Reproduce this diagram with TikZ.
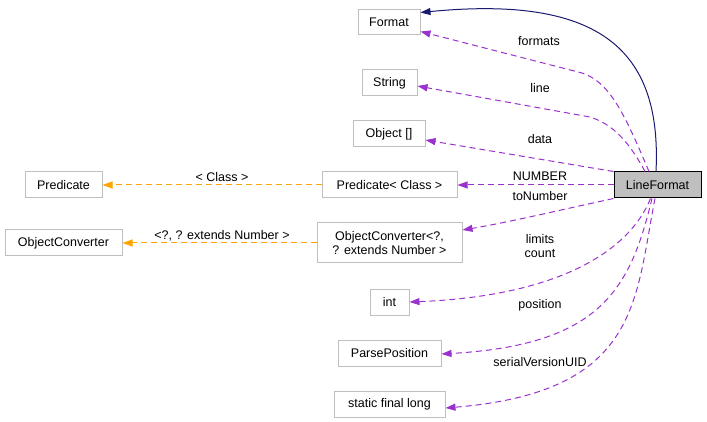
\documentclass[tikz,border=0pt]{standalone}
\usepackage{fontspec}
\setmainfont{Liberation Sans}
\usetikzlibrary{arrows.meta}
\definecolor{boxgray}{HTML}{BFBFBF}
\definecolor{assoc}{HTML}{9A32CD}
\definecolor{tmpl}{HTML}{FFA500}
\definecolor{inherit}{HTML}{191970}
\begin{document}
\begin{tikzpicture}[x=1pt,y=-1pt,
  every node/.style={font=\fontsize{12.5}{14}\selectfont},
  cls/.style={draw=boxgray,line width=1pt,rectangle,inner sep=0pt,minimum height=26pt,align=center},
  focus/.style={draw=black,fill=boxgray,line width=1pt,rectangle,inner sep=0pt,minimum height=26pt,minimum width=87pt},
  tip/.style={-{Triangle[length=10pt,width=7pt]}},
  useedge/.style={tip,color=assoc,line width=1pt,dash pattern=on 6pt off 4pt},
  tmpledge/.style={tip,color=tmpl,line width=1pt,dash pattern=on 6pt off 4pt},
  inhedge/.style={tip,color=inherit,line width=1pt},
  lbl/.style={inner sep=0pt,text=black}]
\useasboundingbox (0,0) rectangle (707,422);
% nodes
\node[cls,minimum width=62pt,minimum height=25pt] (fmt) at (389,22.5) {Format};
\node[cls,minimum width=55pt] (str) at (389.5,83) {String};
\node[cls,minimum width=72pt] (obj) at (389,134) {Object []};
\node[cls,minimum width=135pt] (pred) at (389.5,185) {Predicate< Class >};
\node[focus] (lf) at (657.5,185) {LineFormat};
\node[cls,minimum width=77pt] (predl) at (63.5,185) {Predicate};
\node[cls,minimum width=117pt] (ocl) at (63.5,243) {ObjectConverter};
\node[cls,minimum width=145pt,minimum height=40pt] (oc) at (389.5,243) {ObjectConverter<?,\\ ? extends Number >};
\node[cls,minimum width=39pt] (int) at (389.5,302) {int};
\node[cls,minimum width=103pt] (pp) at (389.5,353) {ParsePosition};
\node[cls,minimum width=111pt] (sfl) at (389.5,404) {static final long};
% inheritance
\draw[inhedge] ([xshift=-1.5pt]lf.north) .. controls (662,50) and (600,-5) .. ([yshift=10pt]fmt.east);
% usage
\draw[useedge] ([xshift=-8.5pt]lf.north) .. controls (625,115) and (610,82) .. (582,73) -- ([yshift=-9pt]fmt.east);
\node[lbl] (lformats) at (539,41) {formats};
\draw[useedge] ([xshift=-12.5pt]lf.north) .. controls (628,140) and (612,124) .. (590,117) -- ([yshift=-3pt]str.east);
\node[lbl] (lline) at (540,88) {line};
\draw[useedge] (lf.north west) -- ([yshift=-6pt]obj.east);
\node[lbl] (ldata) at (540,139) {data};
\draw[useedge] (lf.west) -- (pred.east);
\node[lbl] (lnumber) at (540,176) {NUMBER};
\draw[useedge] (lf.south west) .. controls (560,210) and (510,222) .. ([yshift=13pt]oc.east);
\node[lbl] (ltonumber) at (540,196) {toNumber};
\draw[useedge] ([xshift=-7pt]lf.south) .. controls (630,250) and (560,296) .. (int.east);
\node[lbl,align=center] (llimits) at (540,246) {limits\\count};
\draw[useedge] ([xshift=-5.5pt]lf.south) .. controls (630,290) and (600,345) .. ([yshift=-1pt]pp.east);
\node[lbl] (lposition) at (540,305) {position};
\draw[useedge] ([xshift=-2.5pt]lf.south) .. controls (635,300) and (640,392) .. ([yshift=-4pt]sfl.east);
\node[lbl] (lserial) at (540,362) {serialVersionUID};
% template
\draw[tmpledge] (pred.west) -- (predl.east);
\node[lbl] (lclass) at (222,177) {< Class >};
\draw[tmpledge] (oc.west) -- (ocl.east);
\node[lbl] (lext) at (222,235.5) {<?, ? extends Number >};
\end{tikzpicture}
\end{document}
